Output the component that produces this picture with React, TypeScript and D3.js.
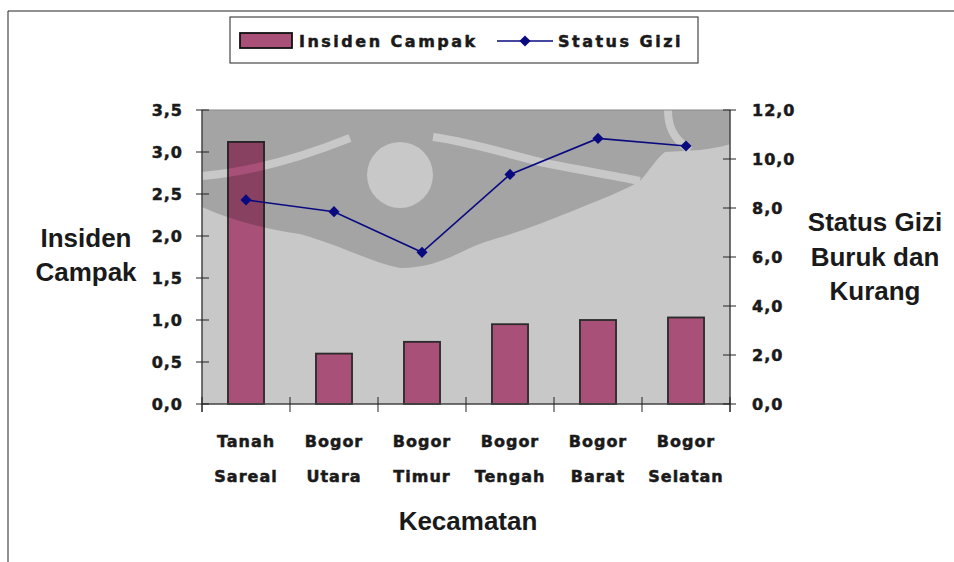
import React from "react";
import * as d3 from "d3";

const categories = ["Tanah Sareal", "Bogor Utara", "Bogor Timur", "Bogor Tengah", "Bogor Barat", "Bogor Selatan"];
const categoryLines = [["Tanah", "Sareal"], ["Bogor", "Utara"], ["Bogor", "Timur"], ["Bogor", "Tengah"], ["Bogor", "Barat"], ["Bogor", "Selatan"]];
const insidenCampak = [3.12, 0.6, 0.74, 0.95, 1.0, 1.03];
const statusGizi = [8.33, 7.85, 6.19, 9.37, 10.84, 10.53];
const leftTicks = [0, 0.5, 1.0, 1.5, 2.0, 2.5, 3.0, 3.5];
const rightTicks = [0, 2, 4, 6, 8, 10, 12];

const W = 954, H = 562;
const M = { left: 202, right: 730, top: 110, bottom: 404 };

const fmt = (v: number) => d3.format(".1f")(v).replace(".", ",");

const DECO = "'DejaVu Sans', Verdana, sans-serif";
const TITLE = "'Liberation Sans', Arial, sans-serif";
const INK = "#1a1a1a";

export default function App() {
  const x = d3.scaleBand<string>().domain(categories).range([M.left, M.right]).padding(0);
  const yL = d3.scaleLinear().domain([0, 3.5]).range([M.bottom, M.top]);
  const yR = d3.scaleLinear().domain([0, 12]).range([M.bottom, M.top]);
  const bw = x.bandwidth() * 0.41;
  const cx = (c: string) => (x(c) as number) + x.bandwidth() / 2;
  const line = d3.line<number>().x((_, i) => cx(categories[i])).y((d) => yR(d));
  const marker = d3.symbol().type(d3.symbolSquare).size(62)() || "";
  const boundaries = [...categories.map((c) => x(c) as number), M.right];

  const decoText = { fontFamily: DECO, fontWeight: "bold", fontSize: 16, letterSpacing: 1, fill: INK, stroke: INK, strokeWidth: 0.5 } as const;
  const titleText = { fontFamily: TITLE, fontWeight: "bold", fontSize: 26, fill: INK } as const;

  return (
    <svg width={W} height={H} style={{ position: "absolute", left: 0, top: 0, background: "#fff" }}>
      <defs>
        <clipPath id="plotClip">
          <rect x={M.left} y={M.top} width={M.right - M.left} height={M.bottom - M.top} />
        </clipPath>
        <mask id="wmMask" maskUnits="userSpaceOnUse" x={0} y={0} width={W} height={H}>
          <path
            d="M202,110 L202,207 C240,224 275,230 300,234 C340,245 370,262 400,268 C440,268 460,250 485,242 C520,232 545,222 570,212 C600,200 625,190 640,181 C650,170 655,160 665,152 L700,150 C715,148 725,146 730,144 L730,110 Z"
            fill="#fff" />
          <path d="M202,176 C250,172 300,158 350,138" fill="none" stroke="#000" strokeWidth={8} />
          <path d="M433,137 C470,142 500,152 540,162 C580,170 615,176 640,181" fill="none" stroke="#000" strokeWidth={8} />
          <path d="M668,110 C668,125 672,138 690,150" fill="none" stroke="#000" strokeWidth={8} />
          <circle cx={400} cy={175} r={33} fill="#000" />
        </mask>
      </defs>
      {/* chart frame */}
      <line x1={8} y1={11} x2={W} y2={11} stroke="#222" strokeWidth={1} />
      <line x1={8} y1={11} x2={8} y2={H} stroke="#222" strokeWidth={1} />

      {/* plot area */}
      <rect x={M.left} y={M.top} width={M.right - M.left} height={M.bottom - M.top} fill="#c8c8c8" />

      {/* bars */}
      {insidenCampak.map((v, i) => (
        <rect key={i} x={cx(categories[i]) - bw / 2} y={yL(v)} width={bw} height={M.bottom - yL(v)}
          fill="#a85078" stroke="#2a2a2a" strokeWidth={1.8} />
      ))}

      {/* watermark shading */}
      <g clipPath="url(#plotClip)">
        <rect x={M.left} y={M.top} width={M.right - M.left} height={M.bottom - M.top} fill="#000" fillOpacity={0.18} mask="url(#wmMask)" />
      </g>
      <rect x={M.left} y={M.top} width={M.right - M.left} height={M.bottom - M.top} fill="none" stroke="#888" strokeWidth={1} />

      {/* line */}
      <path d={line(statusGizi) || ""} fill="none" stroke="#0a0a80" strokeWidth={1.6} />
      {statusGizi.map((v, i) => (
        <path key={i} d={marker} transform={`translate(${cx(categories[i])},${yR(v)}) rotate(45)`} fill="#0a0a80" />
      ))}

      {/* left axis */}
      <line x1={M.left} y1={M.top} x2={M.left} y2={M.bottom + 8} stroke="#222" />
      {leftTicks.map((t) => (
        <g key={t}>
          <line x1={M.left - 6} x2={M.left + 7} y1={yL(t)} y2={yL(t)} stroke="#222" />
          <text x={183} y={yL(t)} dy="0.35em" textAnchor="end" {...decoText}>{fmt(t)}</text>
        </g>
      ))}

      {/* right axis */}
      <line x1={M.right} y1={M.top} x2={M.right} y2={M.bottom + 8} stroke="#222" />
      {rightTicks.map((t) => (
        <g key={t}>
          <line x1={M.right - 7} x2={M.right + 6} y1={yR(t)} y2={yR(t)} stroke="#222" />
          <text x={752} y={yR(t)} dy="0.35em" textAnchor="start" {...decoText}>{fmt(t)}</text>
        </g>
      ))}

      {/* bottom axis */}
      <line x1={M.left} y1={M.bottom} x2={M.right} y2={M.bottom} stroke="#222" />
      {boundaries.map((b, i) => (
        <line key={i} x1={b} x2={b} y1={M.bottom - 7} y2={M.bottom + 8} stroke="#222" />
      ))}
      {categoryLines.map((ls, i) => (
        <text key={i} x={cx(categories[i])} textAnchor="middle" {...decoText}>
          <tspan x={cx(categories[i])} y={447}>{ls[0]}</tspan>
          <tspan x={cx(categories[i])} y={482}>{ls[1]}</tspan>
        </text>
      ))}

      {/* axis titles */}
      <text x={86} textAnchor="middle" {...titleText}>
        <tspan x={86} y={247}>Insiden</tspan>
        <tspan x={86} y={281}>Campak</tspan>
      </text>
      <text x={875} textAnchor="middle" {...titleText}>
        <tspan x={875} y={231}>Status Gizi</tspan>
        <tspan x={875} y={266}>Buruk dan</tspan>
        <tspan x={875} y={300}>Kurang</tspan>
      </text>
      <text x={468} y={530} textAnchor="middle" {...titleText}>Kecamatan</text>

      {/* legend */}
      <rect x={230} y={17} width={468} height={46} fill="#fff" stroke="#222" strokeWidth={1} />
      <rect x={240} y={33} width={52} height={15} fill="#a85078" stroke="#111" strokeWidth={1.8} />
      <text x={299} y={41} dy="0.35em" {...decoText} letterSpacing={2.5}>Insiden Campak</text>
      <line x1={497} x2={553} y1={41} y2={41} stroke="#0a0a80" strokeWidth={1.6} />
      <path d={marker} transform="translate(525,41) rotate(45)" fill="#0a0a80" />
      <text x={558} y={41} dy="0.35em" {...decoText} letterSpacing={2.5}>Status Gizi</text>
    </svg>
  );
}
